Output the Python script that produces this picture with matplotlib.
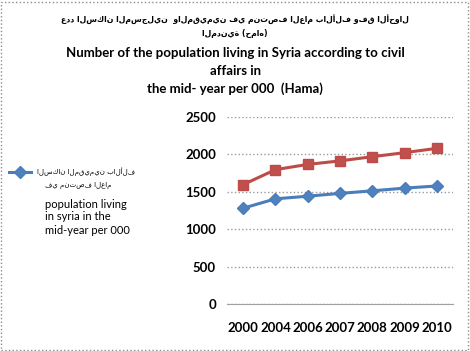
import matplotlib
matplotlib.use('Agg')
import matplotlib.pyplot as plt
from matplotlib.patches import Rectangle

plt.rcParams['font.family'] = ['Lato', 'DejaVu Sans']

years = ['2000', '2004', '2006', '2007', '2008', '2009', '2010']
living = [1280, 1405, 1440, 1478, 1512, 1548, 1577]      # blue, in legend
registered = [1595, 1795, 1865, 1912, 1968, 2022, 2080]  # red, no legend entry
yticks = [0, 500, 1000, 1500, 2000, 2500]

title_ar = ['عدد السكان المسجلين  والمقيمين في منتصف العام بالألف وفق الأحوال',
            'المدنية (حماه)']
title_en = ['Number of the population living in Syria according to civil',
            'affairs in',
            'the mid- year per 000  (Hama)']
legend_ar = ['السكان المقيمين بالألف', 'في منتصف العام']
legend_en = ['population living', 'in syria in the', 'mid-year per 000']

fig = plt.figure(figsize=(4.7, 3.51), dpi=100)
ax = fig.add_axes([0.483, 0.134, 0.481, 0.533])

blue, = ax.plot(years, living, color='#4A7EBB', lw=2.2, marker='D', ms=6,
                mfc='#4F81BD', mec='#4A7EBB')
ax.plot(years, registered, color='#BE4B48', lw=2.2, marker='s', ms=7.5,
        mfc='#C0504D', mec='#BE4B48')

ax.set_ylim(0, 2500)
ax.set_xlim(-0.5, len(years) - 0.5)
ax.set_yticks(yticks)
ax.grid(axis='y', color='#9a9a9a', ls=':', lw=1)
ax.set_axisbelow(True)
for s in ['left', 'right', 'top']:
    ax.spines[s].set_visible(False)
ax.spines['bottom'].set_color('#a0a0a0')
ax.tick_params(length=0, labelsize=9.5)
ax.tick_params(axis='y', pad=8)
ax.tick_params(axis='x', pad=13)
for lab in ax.get_xticklabels() + ax.get_yticklabels():
    lab.set_fontweight('bold')

# title
for j, line in enumerate(title_ar):
    fig.text(0.5, 1 - (19 + 15 * j) / 351, line, ha='center', va='center',
             fontsize=5.6, fontweight='bold', family='DejaVu Sans')
for j, line in enumerate(title_en):
    fig.text(0.5, 1 - (53 + 18 * j) / 351, line, ha='center', va='center',
             fontsize=9.5, fontweight='bold')

# legend (blue series only)
ax.legend([blue], [legend_ar[0]], loc='center left',
          bbox_to_anchor=(3 / 470, 1 - 172 / 351), bbox_transform=fig.transFigure,
          frameon=False, handlelength=3.2, handletextpad=0.8,
          prop={'size': 5.0, 'family': 'DejaVu Sans'})
fig.text(45 / 470, 1 - 185 / 351, legend_ar[1], ha='left', va='center',
         fontsize=5.0, family='DejaVu Sans')
for j, line in enumerate(legend_en):
    fig.text(45 / 470, 1 - (204 + 13 * j) / 351, line, ha='left', va='center',
             fontsize=8)

fig.add_artist(Rectangle((0.003, 0.004), 0.992, 0.99, transform=fig.transFigure,
                         fill=False, ec='#8c8c8c', ls=':', lw=1))

fig.savefig('out.png', dpi=100)
